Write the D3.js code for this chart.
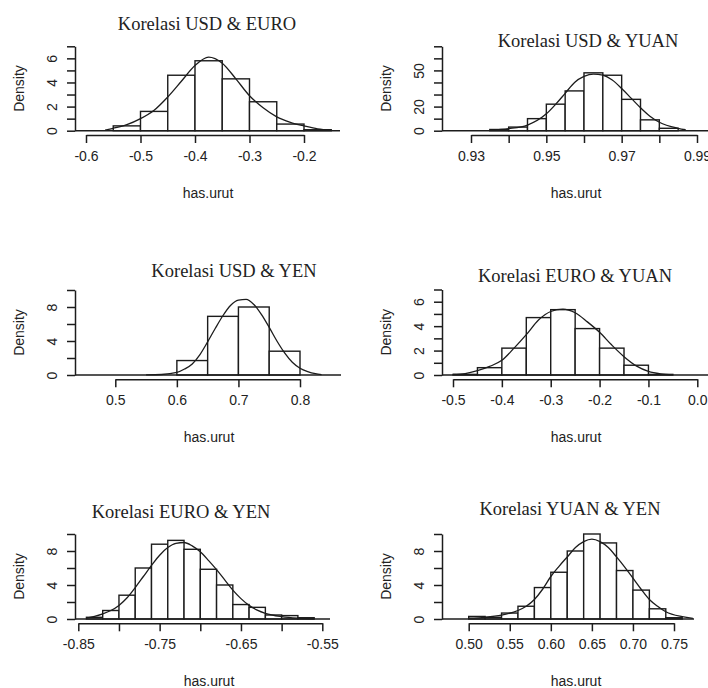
<!DOCTYPE html>
<html>
<head>
<meta charset="utf-8">
<script src="https://cdn.jsdelivr.net/npm/d3@7"></script>
<style>
  body { margin: 0; background: #fff; }
  text { fill: #222; }
</style>
</head>
<body>
<script>
const w = 708;
const h = 688;

// ---------- data ----------
const titles = ["Korelasi USD & EURO", "Korelasi USD & YUAN", "Korelasi USD & YEN",
                "Korelasi EURO & YUAN", "Korelasi EURO & YEN", "Korelasi YUAN & YEN"];

// USD & EURO
const usdEuroBreaks = [-0.55, -0.50, -0.45, -0.40, -0.35, -0.30, -0.25, -0.20, -0.15];
const usdEuroHeights = [0.4, 1.6, 4.6, 5.8, 4.3, 2.4, 0.55, 0.08];
const usdEuroCurveX = [-0.565, -0.55, -0.525, -0.5, -0.475, -0.45, -0.425, -0.4, -0.375, -0.35, -0.325, -0.3, -0.275, -0.25, -0.225, -0.2, -0.175, -0.15];
const usdEuroCurveY = [0.05, 0.2, 0.5, 1.0, 1.7, 2.8, 4.1, 5.4, 6.1, 5.6, 4.3, 2.9, 1.9, 1.15, 0.7, 0.4, 0.15, 0.05];
const usdEuroXTicks = [-0.6, -0.5, -0.4, -0.3, -0.2];
const usdEuroXLabels = ["-0.6", "-0.5", "-0.4", "-0.3", "-0.2"];
const usdEuroYTicks = [0, 1, 2, 3, 4, 5, 6, 7];
const usdEuroYLabels = [0, 2, 4, 6];

// USD & YUAN
const usdYuanBreaks = [0.935, 0.94, 0.945, 0.95, 0.955, 0.96, 0.965, 0.97, 0.975, 0.98, 0.985];
const usdYuanHeights = [1, 3, 10, 22, 33, 48, 46, 26, 9, 2];
const usdYuanCurveX = [0.935, 0.94, 0.945, 0.95, 0.9525, 0.955, 0.9575, 0.96, 0.9625, 0.965, 0.9675, 0.97, 0.9725, 0.975, 0.9775, 0.98, 0.985, 0.987];
const usdYuanCurveY = [0.5, 1.7, 4.7, 14, 22, 31, 40, 45, 47, 46, 42, 35, 27, 19, 12, 7, 2, 0.8];
const usdYuanXTicks = [0.93, 0.94, 0.95, 0.96, 0.97, 0.98, 0.99];
const usdYuanXLabels = ["0.93", "", "0.95", "", "0.97", "", "0.99"];
const usdYuanYTicks = [0, 10, 20, 30, 40, 50, 60, 70];
const usdYuanYLabels = [0, 20, 50];

// USD & YEN
const usdYenBreaks = [0.6, 0.65, 0.7, 0.75, 0.8];
const usdYenHeights = [1.7, 6.9, 8.0, 2.8];
const usdYenCurveX = [0.55, 0.575, 0.6, 0.6125, 0.625, 0.6375, 0.65, 0.6625, 0.675, 0.6875, 0.7, 0.7125, 0.725, 0.7375, 0.75, 0.7625, 0.775, 0.7875, 0.8, 0.8125, 0.825, 0.835];
const usdYenCurveY = [0.02, 0.06, 0.3, 0.7, 1.3, 2.4, 3.9, 5.5, 7.0, 8.2, 8.8, 8.9, 8.3, 7.1, 5.6, 4.0, 2.6, 1.5, 0.8, 0.4, 0.15, 0.05];
const usdYenXTicks = [0.5, 0.6, 0.7, 0.8];
const usdYenXLabels = ["0.5", "0.6", "0.7", "0.8"];
const usdYenYTicks = [0, 2, 4, 6, 8, 10];
const usdYenYLabels = [0, 4, 8];

// EURO & YUAN
const euroYuanBreaks = [-0.5, -0.45, -0.4, -0.35, -0.3, -0.25, -0.2, -0.15, -0.1, -0.05];
const euroYuanHeights = [0.05, 0.6, 2.2, 4.7, 5.35, 3.8, 2.2, 0.8, 0.05];
const euroYuanCurveX = [-0.5, -0.475, -0.45, -0.425, -0.4, -0.375, -0.35, -0.325, -0.3, -0.275, -0.25, -0.225, -0.2, -0.175, -0.15, -0.125, -0.1, -0.075, -0.05];
const euroYuanCurveY = [0.05, 0.12, 0.35, 0.7, 1.2, 2.2, 3.3, 4.5, 5.2, 5.4, 5.1, 4.35, 3.5, 2.45, 1.5, 0.75, 0.3, 0.1, 0.03];
const euroYuanXTicks = [-0.5, -0.4, -0.3, -0.2, -0.1, 0.0];
const euroYuanXLabels = ["-0.5", "-0.4", "-0.3", "-0.2", "-0.1", "0.0"];
const euroYuanYTicks = [0, 1, 2, 3, 4, 5, 6, 7];
const euroYuanYLabels = [0, 2, 4, 6];

// EURO & YEN
const euroYenBreaks = [-0.84, -0.82, -0.80, -0.78, -0.76, -0.74, -0.72, -0.70, -0.68, -0.66, -0.64, -0.62, -0.60, -0.58, -0.56];
const euroYenHeights = [0.2, 1.0, 2.8, 6.0, 8.8, 9.25, 8.2, 5.85, 4.0, 1.7, 1.37, 0.47, 0.4, 0.15];
const euroYenCurveX = [-0.84, -0.83, -0.82, -0.81, -0.80, -0.79, -0.78, -0.77, -0.76, -0.75, -0.74, -0.73, -0.72, -0.71, -0.70, -0.69, -0.68, -0.67, -0.66, -0.65, -0.64, -0.63, -0.62, -0.60, -0.58, -0.56];
const euroYenCurveY = [0.1, 0.3, 0.6, 1.0, 1.6, 2.5, 3.7, 5.0, 6.3, 7.5, 8.4, 8.9, 9.0, 8.6, 7.9, 6.9, 5.8, 4.6, 3.4, 2.4, 1.6, 1.05, 0.67, 0.28, 0.1, 0.03];
const euroYenXTicks = [-0.85, -0.80, -0.75, -0.70, -0.65, -0.60, -0.55];
const euroYenXLabels = ["-0.85", "", "-0.75", "", "-0.65", "", "-0.55"];
const euroYenYTicks = [0, 2, 4, 6, 8, 10];
const euroYenYLabels = [0, 4, 8];

// YUAN & YEN
const yuanYenBreaks = [0.50, 0.52, 0.54, 0.56, 0.58, 0.60, 0.62, 0.64, 0.66, 0.68, 0.70, 0.72, 0.74, 0.76];
const yuanYenHeights = [0.3, 0.2, 0.7, 1.5, 3.7, 5.5, 8.0, 10.0, 8.95, 5.7, 3.4, 1.2, 0.15];
const yuanYenCurveX = [0.50, 0.52, 0.54, 0.56, 0.57, 0.58, 0.59, 0.60, 0.61, 0.62, 0.63, 0.64, 0.65, 0.66, 0.67, 0.68, 0.69, 0.70, 0.71, 0.72, 0.73, 0.74, 0.76, 0.773];
const yuanYenCurveY = [0.1, 0.2, 0.45, 1.0, 1.5, 2.3, 3.5, 5.0, 6.2, 7.3, 8.4, 9.1, 9.4, 9.1, 8.4, 7.3, 6.1, 4.8, 3.5, 2.3, 1.5, 0.85, 0.27, 0.08];
const yuanYenXTicks = [0.50, 0.55, 0.60, 0.65, 0.70, 0.75];
const yuanYenXLabels = ["0.50", "0.55", "0.60", "0.65", "0.70", "0.75"];
const yuanYenYTicks = [0, 2, 4, 6, 8, 10];
const yuanYenYLabels = [0, 4, 8];

// ---------- layout ----------
const panels = [
  { breaks: usdEuroBreaks, heights: usdEuroHeights, cx: usdEuroCurveX, cy: usdEuroCurveY,
    xTicks: usdEuroXTicks, xLabels: usdEuroXLabels, yTicks: usdEuroYTicks, yLabels: usdEuroYLabels,
    xRange: [86, 304], yZero: 130.7, yTop: 46.3, axisX: 75, baseEnd: 340,
    titleX: 207, titleY: 30, xlabX: 208 },
  { breaks: usdYuanBreaks, heights: usdYuanHeights, cx: usdYuanCurveX, cy: usdYuanCurveY,
    xTicks: usdYuanXTicks, xLabels: usdYuanXLabels, yTicks: usdYuanYTicks, yLabels: usdYuanYLabels,
    xRange: [471, 697], yZero: 130.7, yTop: 46.3, axisX: 442, baseEnd: 708,
    titleX: 588, titleY: 47, xlabX: 576 },
  { breaks: usdYenBreaks, heights: usdYenHeights, cx: usdYenCurveX, cy: usdYenCurveY,
    xTicks: usdYenXTicks, xLabels: usdYenXLabels, yTicks: usdYenYTicks, yLabels: usdYenYLabels,
    xRange: [115.3, 300], yZero: 375, yTop: 290, axisX: 75, baseEnd: 341,
    titleX: 234, titleY: 277, xlabX: 209 },
  { breaks: euroYuanBreaks, heights: euroYuanHeights, cx: euroYuanCurveX, cy: euroYuanCurveY,
    xTicks: euroYuanXTicks, xLabels: euroYuanXLabels, yTicks: euroYuanYTicks, yLabels: euroYuanYLabels,
    xRange: [453, 697.3], yZero: 375, yTop: 289.5, axisX: 442, baseEnd: 708,
    titleX: 575, titleY: 282, xlabX: 576 },
  { breaks: euroYenBreaks, heights: euroYenHeights, cx: euroYenCurveX, cy: euroYenCurveY,
    xTicks: euroYenXTicks, xLabels: euroYenXLabels, yTicks: euroYenYTicks, yLabels: euroYenYLabels,
    xRange: [78.3, 322.3], yZero: 619, yTop: 534, axisX: 75, baseEnd: 330,
    titleX: 181, titleY: 518, xlabX: 209 },
  { breaks: yuanYenBreaks, heights: yuanYenHeights, cx: yuanYenCurveX, cy: yuanYenCurveY,
    xTicks: yuanYenXTicks, xLabels: yuanYenXLabels, yTicks: yuanYenYTicks, yLabels: yuanYenYLabels,
    xRange: [468.7, 674], yZero: 619, yTop: 534, axisX: 442, baseEnd: 694,
    titleX: 570, titleY: 515, xlabX: 576 }
];

const ink = "#1c1c1c";
const sans = "'Liberation Sans', Arial, sans-serif";
const serif = "'Liberation Serif', 'Times New Roman', serif";

const svg = d3.select("body")
              .append("svg")
              .attr("width", w)
              .attr("height", h);

panels.forEach(function(p, k) {
  const g = svg.append("g");

  const xScale = d3.scaleLinear()
                   .domain([p.xTicks[0], p.xTicks[p.xTicks.length - 1]])
                   .range(p.xRange);
  const yScale = d3.scaleLinear()
                   .domain([0, p.yTicks[p.yTicks.length - 1]])
                   .range([p.yZero, p.yTop]);

  // bars
  const bins = p.heights.map((v, i) => ({ x0: p.breaks[i], x1: p.breaks[i + 1], v: v }));
  g.selectAll("rect")
   .data(bins)
   .enter()
   .append("rect")
   .attr("x", d => xScale(d.x0))
   .attr("width", d => xScale(d.x1) - xScale(d.x0))
   .attr("y", d => yScale(d.v))
   .attr("height", d => yScale(0) - yScale(d.v))
   .attr("fill", "#fff")
   .attr("stroke", ink)
   .attr("stroke-width", 1.4);

  // density curve
  const line = d3.line()
                 .x(d => xScale(d[0]))
                 .y(d => yScale(d[1]))
                 .curve(d3.curveMonotoneX);
  g.append("path")
   .datum(p.cx.map((x, i) => [x, p.cy[i]]))
   .attr("d", line)
   .attr("fill", "none")
   .attr("stroke", ink)
   .attr("stroke-width", 1.3);

  // zero line
  g.append("line")
   .attr("x1", p.axisX).attr("x2", p.baseEnd)
   .attr("y1", yScale(0)).attr("y2", yScale(0))
   .attr("stroke", ink)
   .attr("stroke-width", 1.5);

  // x axis
  const xAxis = d3.axisBottom(xScale)
                  .tickValues(p.xTicks)
                  .tickFormat((d, i) => p.xLabels[i])
                  .tickSize(8)
                  .tickSizeOuter(0)
                  .tickPadding(8);
  const xg = g.append("g")
              .attr("transform", "translate(0," + (p.yZero + 4.3) + ")")
              .call(xAxis);
  xg.selectAll("text").attr("font-family", sans).attr("font-size", 14).attr("fill", "#222");
  xg.selectAll("path, line").attr("stroke", ink).attr("stroke-width", 1.5);

  // y axis
  const yAxis = d3.axisLeft(yScale)
                  .tickValues(p.yTicks)
                  .tickFormat(d => p.yLabels.includes(d) ? d : "")
                  .tickSize(8)
                  .tickSizeOuter(0);
  const yg = g.append("g")
              .attr("transform", "translate(" + p.axisX + ",0)")
              .call(yAxis);
  yg.selectAll("text")
    .attr("x", null).attr("dy", null)
    .attr("text-anchor", "middle")
    .attr("transform", "translate(-18,0) rotate(-90)")
    .attr("font-family", sans).attr("font-size", 14).attr("fill", "#222");
  yg.selectAll("path, line").attr("stroke", ink).attr("stroke-width", 1.5);

  // labels
  g.append("text")
   .attr("x", p.titleX).attr("y", p.titleY)
   .attr("text-anchor", "middle")
   .attr("font-family", serif).attr("font-size", 18.5)
   .text(titles[k]);

  g.append("text")
   .attr("x", p.xlabX).attr("y", p.yZero + 67)
   .attr("text-anchor", "middle")
   .attr("font-family", sans).attr("font-size", 14)
   .text("has.urut");

  g.append("text")
   .attr("transform", "translate(" + (p.axisX - 51) + "," + ((p.yZero + p.yTop) / 2) + ") rotate(-90)")
   .attr("text-anchor", "middle")
   .attr("font-family", sans).attr("font-size", 14)
   .text("Density");
});
</script>
</body>
</html>
